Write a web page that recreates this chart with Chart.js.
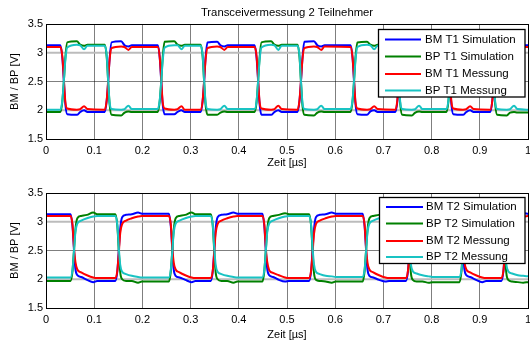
<!DOCTYPE html>
<html><head><meta charset="utf-8">
<script src="https://cdn.jsdelivr.net/npm/chart.js@4.4.1/dist/chart.umd.min.js"></script>
<style>
html,body{margin:0;padding:0;background:#fff;overflow:hidden;width:530px;height:342px}
#wrap{position:relative;width:530px;height:342px;overflow:hidden;background:#fff}
canvas{position:absolute;left:0}
#c1{top:0}
#c2{top:171px}
</style></head><body>
<div id="wrap"><canvas id="c1" width="545" height="171"></canvas><canvas id="c2" width="545" height="171"></canvas></div>
<script>
// ---------- texts / ticks ----------
const chartTitle = 'Transceivermessung 2 Teilnehmer';
const xAxisTitle = 'Zeit [µs]';
const yAxisTitle = 'BM / BP [V]';
const xTicks = [0,0.1,0.2,0.3,0.4,0.5,0.6,0.7,0.8,0.9,1];
const xTickLabels = ['0','0.1','0.2','0.3','0.4','0.5','0.6','0.7','0.8','0.9','1'];
const yTicks = [1.5,2,2.5,3,3.5];
const yTickLabels = ['1.5','2','2.5','3','3.5'];
const refLevels = [2,3];
const labelsT1 = ['BM T1 Simulation','BP T1 Simulation','BM T1 Messung','BP T1 Messung'];
const labelsT2 = ['BM T2 Simulation','BP T2 Simulation','BM T2 Messung','BP T2 Messung'];

// ---------- top plot (T1) ----------
const timeT1 = [0,
0.030,0.034,0.037,0.040,0.044,0.064,0.071,0.079,0.086,
0.122,0.126,0.129,0.132,0.136,0.156,0.163,0.171,0.178,
0.232,0.236,0.239,0.242,0.246,0.266,0.273,0.281,0.288,
0.321,0.325,0.328,0.331,0.335,0.355,0.362,0.370,0.377,
0.433,0.437,0.440,0.443,0.447,0.467,0.474,0.482,0.489,
0.522,0.526,0.529,0.532,0.536,0.556,0.563,0.571,0.578,
0.632,0.636,0.639,0.642,0.646,0.666,0.673,0.681,0.688,
0.725,0.729,0.732,0.735,0.739,0.759,0.766,0.774,0.781,
0.831,0.835,0.838,0.841,0.845,0.865,0.872,0.880,0.887,
0.922,0.926,0.929,0.932,0.936,0.956,0.963,0.971,0.978,
1.0];
const bmSimT1 = [3.13,
3.13,2.90,2.52,2.12,1.93,1.92,1.97,2.00,1.97,
1.97,2.17,2.50,2.90,3.18,3.20,3.13,3.11,3.13,
3.13,2.91,2.51,2.11,1.93,1.93,1.97,2.00,1.97,
1.97,2.16,2.49,2.91,3.18,3.19,3.13,3.11,3.13,
3.13,2.90,2.52,2.12,1.92,1.92,1.97,2.00,1.97,
1.97,2.17,2.50,2.90,3.19,3.20,3.13,3.11,3.13,
3.13,2.91,2.51,2.12,1.93,1.92,1.98,2.00,1.97,
1.97,2.16,2.50,2.90,3.18,3.20,3.13,3.11,3.13,
3.13,2.90,2.52,2.11,1.93,1.92,1.97,2.00,1.97,
1.97,2.17,2.50,2.91,3.18,3.20,3.13,3.11,3.13,
3.13];
const bpSimT1 = [1.97,
1.97,2.16,2.50,2.90,3.18,3.20,3.14,3.12,3.14,
3.14,2.92,2.50,2.10,1.92,1.91,1.96,1.98,1.97,
1.97,2.16,2.49,2.91,3.19,3.20,3.14,3.12,3.14,
3.14,2.93,2.51,2.10,1.92,1.92,1.96,1.98,1.97,
1.97,2.15,2.50,2.90,3.18,3.20,3.14,3.12,3.14,
3.14,2.92,2.50,2.09,1.92,1.91,1.96,1.98,1.97,
1.97,2.16,2.50,2.91,3.18,3.19,3.14,3.12,3.14,
3.14,2.92,2.50,2.10,1.92,1.91,1.96,1.98,1.97,
1.97,2.16,2.51,2.90,3.19,3.20,3.14,3.12,3.14,
3.14,2.92,2.50,2.10,1.92,1.91,1.96,1.97,1.96,
1.96];
const bmMessT1 = [3.10,
3.10,2.93,2.55,2.16,2.03,2.01,2.02,2.07,2.02,
2.01,2.18,2.52,2.88,3.08,3.11,3.10,3.05,3.10,
3.10,2.92,2.54,2.15,2.03,2.01,2.02,2.07,2.01,
2.01,2.17,2.51,2.87,3.08,3.11,3.10,3.05,3.10,
3.10,2.93,2.55,2.16,2.03,2.01,2.02,2.08,2.02,
2.01,2.18,2.52,2.88,3.08,3.11,3.10,3.05,3.11,
3.10,2.92,2.55,2.15,2.03,2.01,2.02,2.07,2.02,
2.01,2.18,2.51,2.87,3.08,3.11,3.09,3.05,3.10,
3.10,2.93,2.54,2.16,2.03,2.01,2.02,2.07,2.02,
2.01,2.17,2.52,2.88,3.08,3.11,3.10,3.05,3.10,
3.10];
const bpMessT1 = [2.01,
2.01,2.18,2.50,2.86,3.09,3.14,3.13,3.06,3.12,
3.12,2.95,2.50,2.14,2.02,2.01,2.02,2.08,2.02,
2.02,2.18,2.49,2.85,3.09,3.13,3.13,3.06,3.12,
3.12,2.96,2.51,2.15,2.02,2.01,2.02,2.08,2.02,
2.02,2.17,2.50,2.86,3.09,3.14,3.13,3.05,3.12,
3.12,2.95,2.50,2.14,2.02,2.01,2.02,2.08,2.02,
2.02,2.18,2.50,2.86,3.10,3.14,3.13,3.06,3.12,
3.12,2.95,2.51,2.14,2.02,2.01,2.02,2.08,2.02,
2.02,2.18,2.50,2.85,3.09,3.14,3.13,3.06,3.12,
3.12,2.95,2.50,2.14,2.02,2.01,2.02,2.08,2.02,
2.01];

// ---------- bottom plot (T2) ----------
const timeT2 = [0,
0.051,0.055,0.058,0.061,0.065,0.073,0.085,0.098,0.106,
0.144,0.148,0.151,0.154,0.158,0.166,0.178,0.191,0.199,
0.255,0.259,0.262,0.265,0.269,0.277,0.289,0.302,0.310,
0.342,0.346,0.349,0.352,0.356,0.364,0.376,0.389,0.397,
0.449,0.453,0.456,0.459,0.463,0.471,0.483,0.496,0.504,
0.546,0.550,0.553,0.556,0.560,0.568,0.580,0.593,0.601,
0.657,0.661,0.664,0.667,0.671,0.679,0.691,0.704,0.712,
0.747,0.751,0.754,0.757,0.761,0.769,0.781,0.794,0.802,
0.858,0.862,0.865,0.868,0.872,0.880,0.892,0.905,0.913,
0.945,0.949,0.952,0.955,0.959,0.967,0.979,0.990,1.000];
const bmSimT2 = [3.13,
3.13,2.92,2.52,2.18,2.07,2.04,1.99,1.95,1.97,
1.97,2.14,2.50,2.88,3.08,3.12,3.13,3.16,3.14,
3.14,2.92,2.52,2.17,2.06,2.03,1.99,1.95,1.97,
1.97,2.14,2.50,2.88,3.08,3.12,3.13,3.16,3.14,
3.14,2.92,2.51,2.18,2.07,2.04,1.99,1.96,1.97,
1.97,2.14,2.50,2.87,3.08,3.12,3.13,3.16,3.14,
3.14,2.92,2.52,2.17,2.06,2.03,1.99,1.96,1.97,
1.97,2.14,2.50,2.88,3.08,3.12,3.13,3.16,3.14,
3.14,2.92,2.52,2.18,2.07,2.04,1.99,1.95,1.97,
1.97,2.14,2.50,2.88,3.08,3.12,3.13,3.15,3.14];
const bpSimT2 = [1.97,
1.97,2.14,2.50,2.86,3.06,3.10,3.12,3.16,3.13,
3.13,2.93,2.50,2.12,2.00,1.97,1.97,1.94,1.96,
1.96,2.14,2.50,2.86,3.06,3.10,3.12,3.16,3.13,
3.13,2.93,2.50,2.12,2.00,1.97,1.97,1.94,1.96,
1.96,2.14,2.50,2.86,3.06,3.10,3.12,3.15,3.13,
3.13,2.93,2.50,2.11,1.99,1.97,1.96,1.94,1.96,
1.96,2.14,2.50,2.86,3.06,3.10,3.12,3.16,3.13,
3.13,2.93,2.50,2.11,1.99,1.96,1.96,1.94,1.95,
1.95,2.14,2.50,2.86,3.06,3.10,3.12,3.16,3.13,
3.13,2.93,2.50,2.11,1.99,1.96,1.95,1.94,1.95];
const bmMessT2 = [3.10,
3.10,2.95,2.56,2.30,2.17,2.12,2.07,2.03,2.02,
2.02,2.15,2.45,2.80,2.96,3.02,3.06,3.09,3.10,
3.10,2.95,2.56,2.29,2.17,2.12,2.07,2.03,2.02,
2.02,2.15,2.46,2.80,2.96,3.02,3.06,3.09,3.10,
3.10,2.95,2.55,2.30,2.16,2.11,2.07,2.03,2.02,
2.02,2.15,2.45,2.79,2.96,3.02,3.06,3.09,3.10,
3.10,2.95,2.56,2.29,2.17,2.12,2.07,2.03,2.02,
2.02,2.15,2.45,2.80,2.96,3.02,3.06,3.09,3.10,
3.10,2.95,2.56,2.30,2.17,2.12,2.07,2.03,2.02,
2.02,2.15,2.45,2.80,2.96,3.02,3.06,3.09,3.10];
const bpMessT2 = [2.03,
2.03,2.17,2.48,2.82,2.97,3.02,3.06,3.09,3.10,
3.10,2.94,2.55,2.25,2.13,2.09,2.06,2.04,2.03,
2.03,2.17,2.48,2.82,2.97,3.02,3.06,3.09,3.10,
3.10,2.94,2.55,2.25,2.13,2.09,2.06,2.04,2.03,
2.03,2.17,2.48,2.82,2.97,3.02,3.06,3.09,3.10,
3.10,2.94,2.55,2.26,2.13,2.09,2.06,2.05,2.04,
2.04,2.17,2.48,2.82,2.97,3.02,3.06,3.09,3.10,
3.10,2.94,2.55,2.26,2.14,2.10,2.07,2.05,2.04,
2.04,2.17,2.48,2.82,2.97,3.02,3.06,3.09,3.10,
3.10,2.94,2.55,2.26,2.14,2.10,2.07,2.06,2.05];

// ---------- styling ----------
const seriesColors = ['#0000ff','#008000','#ff0000','#19c3c3'];
const FONT = "'Liberation Sans', Arial, Helvetica, sans-serif";

const decor = {
  id: 'decor',
  afterDraw(chart, args, o) {
    const ctx = chart.ctx, a = chart.chartArea;
    ctx.save();
    ctx.strokeStyle = '#000'; ctx.lineWidth = 1;
    ctx.strokeRect(Math.round(a.left)+0.5, Math.round(a.top)+0.5, Math.round(a.right-a.left), Math.round(a.bottom-a.top));
    if (o.title) {
      ctx.fillStyle = '#000';
      ctx.font = '11.3px ' + FONT;
      ctx.textAlign = 'center'; ctx.textBaseline = 'middle';
      ctx.fillText(o.title, (a.left + a.right) / 2, o.titleY);
    }
    const L = o.legend;
    ctx.fillStyle = '#fff';
    ctx.fillRect(L.x, L.y, L.w, L.h);
    ctx.strokeStyle = '#000'; ctx.lineWidth = 1.3;
    ctx.strokeRect(L.x, L.y, L.w, L.h);
    ctx.font = '11.5px ' + FONT;
    ctx.textAlign = 'left'; ctx.textBaseline = 'middle';
    o.labels.forEach((lab, i) => {
      const y = L.rows[i];
      ctx.strokeStyle = seriesColors[i]; ctx.lineWidth = 2;
      ctx.beginPath(); ctx.moveTo(L.x0, y); ctx.lineTo(L.x1, y); ctx.stroke();
      ctx.fillStyle = '#000';
      ctx.fillText(lab, L.tx, y);
    });
    ctx.restore();
  }
};

function makeChart(id, time, series, labels, cfg) {
  const datasets = [];
  series.forEach((vals, i) => {
    datasets.push({
      label: labels[i],
      data: time.map((t, k) => ({x: t, y: vals[k]})),
      borderColor: seriesColors[i], borderWidth: 2,
      pointRadius: 0, cubicInterpolationMode: 'monotone', fill: false,
      borderJoinStyle: 'round', borderCapStyle: 'round',
      order: 4 - i
    });
  });
  refLevels.forEach(lv => {
    datasets.push({
      label: 'ref',
      data: [{x: xTicks[0], y: lv}, {x: xTicks[xTicks.length-1], y: lv}],
      borderColor: '#bcbcbc', borderWidth: 2, pointRadius: 0, order: 10
    });
  });
  const axisFont = {family: FONT, size: 11};
  return new Chart(document.getElementById(id), {
    type: 'line',
    data: {datasets},
    plugins: [decor],
    options: {
      responsive: false, animation: false, events: [],
      layout: {padding: {top: cfg.top, left: 0, right: 17, bottom: 0}},
      plugins: {
        legend: {display: false}, tooltip: {enabled: false},
        decor: {title: cfg.title, titleY: cfg.titleY, labels, legend: cfg.legend}
      },
      scales: {
        x: {
          type: 'linear', min: 0, max: 1,
          afterBuildTicks: s => { s.ticks = xTicks.map(v => ({value: v})); },
          afterFit: s => { s.height = cfg.xh; },
          ticks: {color: '#000', font: axisFont, padding: cfg.xpad, maxRotation: 0, autoSkip: false,
                  callback: (v, i) => xTickLabels[i]},
          grid: {color: 'rgba(0,0,0,0.5)', lineWidth: 1, drawTicks: false},
          border: {display: true, color: '#000', width: 1},
          title: {display: true, text: xAxisTitle, color: '#000', font: axisFont, padding: {top: 0, bottom: cfg.xtpad}}
        },
        y: {
          type: 'linear', min: 1.5, max: 3.5,
          afterBuildTicks: s => { s.ticks = yTicks.map(v => ({value: v})); },
          afterFit: s => { s.width = 46; },
          ticks: {color: '#000', font: axisFont, padding: 3, autoSkip: false,
                  callback: (v, i) => yTickLabels[i]},
          grid: {color: 'rgba(0,0,0,0.5)', lineWidth: 1, drawTicks: false},
          border: {display: true, color: '#000', width: 1},
          title: {display: true, text: yAxisTitle, color: '#000', font: axisFont, padding: {top: 8, bottom: 0}}
        }
      }
    }
  });
}

makeChart('c1', timeT1, [bmSimT1, bpSimT1, bmMessT1, bpMessT1], labelsT1, {
  top: 24, xh: 32, xpad: 5, xtpad: 1.5, title: chartTitle, titleY: 13,
  legend: {x: 378.5, y: 29.5, w: 146.5, h: 67.5, rows: [39.5, 56.5, 74, 90.5], x0: 385, x1: 421, tx: 425}
});
makeChart('c2', timeT2, [bmSimT2, bpSimT2, bmMessT2, bpMessT2], labelsT2, {
  top: 22, xh: 34, xpad: 5, xtpad: 0, title: null, titleY: 0,
  legend: {x: 379.5, y: 26.5, w: 145.5, h: 66, rows: [36, 52.5, 70, 86], x0: 386, x1: 423, tx: 426}
});
</script>
</body></html>
